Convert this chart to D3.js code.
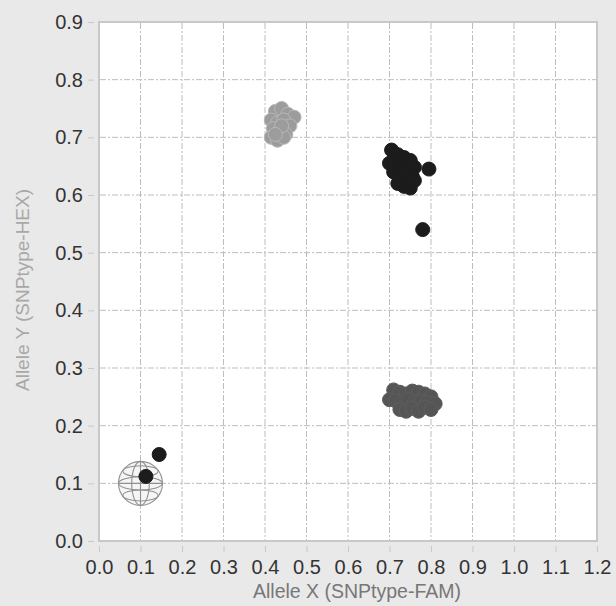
<!DOCTYPE html>
<html><head><meta charset="utf-8">
<script src="https://cdn.jsdelivr.net/npm/d3@7"></script>
<style>body{margin:0;background:#e9e9e9;} svg{display:block;}</style>
</head><body>
<svg id="chart" width="616" height="606"></svg>
<script>
const xTicks = [0.0,0.1,0.2,0.3,0.4,0.5,0.6,0.7,0.8,0.9,1.0,1.1,1.2];
const yTicks = [0.0,0.1,0.2,0.3,0.4,0.5,0.6,0.7,0.8,0.9];
const xTitle = "Allele X (SNPtype-FAM)";
const yTitle = "Allele Y (SNPtype-HEX)";

// Allele Y homozygous cluster (light gray)
const clusterY = [
 [0.425,0.745],[0.44,0.75],[0.455,0.74],[0.47,0.735],[0.415,0.73],[0.43,0.725],
 [0.445,0.73],[0.46,0.72],[0.42,0.715],[0.435,0.71],[0.45,0.705],[0.415,0.70],
 [0.43,0.695],[0.445,0.70],[0.44,0.72],[0.425,0.705]
];
// Heterozygous cluster (black)
const clusterXY = [
 [0.705,0.678],[0.72,0.67],[0.735,0.665],[0.75,0.66],[0.70,0.655],[0.715,0.655],
 [0.73,0.65],[0.745,0.645],[0.76,0.648],[0.71,0.64],[0.725,0.635],[0.74,0.63],
 [0.755,0.632],[0.72,0.62],[0.735,0.615],[0.75,0.612],[0.745,0.62],[0.73,0.64],
 [0.76,0.625],[0.795,0.645],[0.78,0.54]
];
// Allele X homozygous cluster (dark gray)
const clusterX = [
 [0.71,0.262],[0.725,0.258],[0.74,0.255],[0.755,0.26],[0.77,0.258],[0.785,0.255],
 [0.80,0.25],[0.70,0.245],[0.715,0.243],[0.73,0.24],[0.745,0.245],[0.76,0.24],
 [0.775,0.242],[0.79,0.24],[0.81,0.238],[0.725,0.228],[0.74,0.225],[0.755,0.23],
 [0.77,0.225],[0.785,0.232],[0.80,0.228]
];
// No-template controls (black) and their marker
const ntc = [[0.145,0.15],[0.113,0.112]];
const ntcCenter = [0.1,0.1];

const svg = d3.select("#chart");
const L=99, R=597, T=22, B=541;
const x = d3.scaleLinear().domain([0,1.2]).range([L,R]);
const y = d3.scaleLinear().domain([0,0.9]).range([B,T]);
const font = "'Liberation Sans', Arial, sans-serif";

svg.append("rect").attr("x",L).attr("y",T).attr("width",R-L).attr("height",B-T)
  .attr("fill","#fff").attr("stroke","#c8c8c8").attr("stroke-width",2);

// grid
const grid = svg.append("g");
grid.selectAll(".gx").data(xTicks.slice(1,-1)).join("line")
  .attr("x1",d=>x(d)).attr("x2",d=>x(d)).attr("y1",T+1).attr("y2",B-1)
  .attr("stroke","#bdbdbd").attr("stroke-width",1).attr("stroke-dasharray","6,2,2,2");
grid.selectAll(".gy").data(yTicks.slice(1,-1)).join("line")
  .attr("y1",d=>y(d)).attr("y2",d=>y(d)).attr("x1",L+1).attr("x2",R-1)
  .attr("stroke","#bdbdbd").attr("stroke-width",1).attr("stroke-dasharray","6,2,2,2");

// axes
const xAxis = svg.append("g").attr("transform",`translate(0,${B+5})`)
  .call(d3.axisBottom(x).tickValues(xTicks).tickFormat(d3.format(".1f")).tickSize(6).tickPadding(8));
const yAxis = svg.append("g").attr("transform",`translate(${L-5},0)`)
  .call(d3.axisLeft(y).tickValues(yTicks).tickFormat(d3.format(".1f")).tickSize(6).tickPadding(5));
[xAxis,yAxis].forEach(a=>{
  a.select(".domain").remove();
  a.selectAll(".tick line").attr("stroke","#c8c8c8");
  a.selectAll(".tick text").attr("fill","#333").style("font-family",font).style("font-size","20px");
});

// titles
svg.append("text").attr("x",357).attr("y",598).attr("text-anchor","middle")
  .attr("fill","#777").style("font-family",font).style("font-size","19.5px").text(xTitle);
svg.append("text").attr("transform",`translate(29,290) rotate(-90)`).attr("text-anchor","middle")
  .attr("fill","#a8a8a8").style("font-family",font).style("font-size","19px").text(yTitle);

// NTC globe marker
const gc = svg.append("g").attr("transform",`translate(${x(ntcCenter[0])},${y(ntcCenter[1])})`)
  .attr("fill","none").attr("stroke","#909090").attr("stroke-width",1.1);
const gr = 22;
gc.append("circle").attr("r",gr).attr("fill","rgba(235,235,235,0.5)");
gc.append("ellipse").attr("rx",gr).attr("ry",gr*0.3);
gc.append("line").attr("x1",-gr).attr("x2",gr);
gc.append("ellipse").attr("rx",gr*0.4).attr("ry",gr);
gc.append("line").attr("y1",-gr).attr("y2",gr);
gc.append("ellipse").attr("rx",gr*0.8).attr("ry",gr*0.25).attr("cy",-gr*0.55);
gc.append("ellipse").attr("rx",gr*0.8).attr("ry",gr*0.25).attr("cy",gr*0.55);

const r = 7;
function drawPts(data, fill, stroke){
  svg.append("g").selectAll("circle").data(data).join("circle")
    .attr("cx",d=>x(d[0])).attr("cy",d=>y(d[1])).attr("r",r)
    .attr("fill",fill).attr("stroke",stroke).attr("stroke-width",1);
}
drawPts(clusterY,"#9c9c9c","#b8b8b8");
drawPts(clusterX,"#555555","#5e5e5e");
drawPts(clusterXY,"#1c1c1c","#1c1c1c");
drawPts(ntc,"#1c1c1c","#1c1c1c");
</script>
</body></html>
